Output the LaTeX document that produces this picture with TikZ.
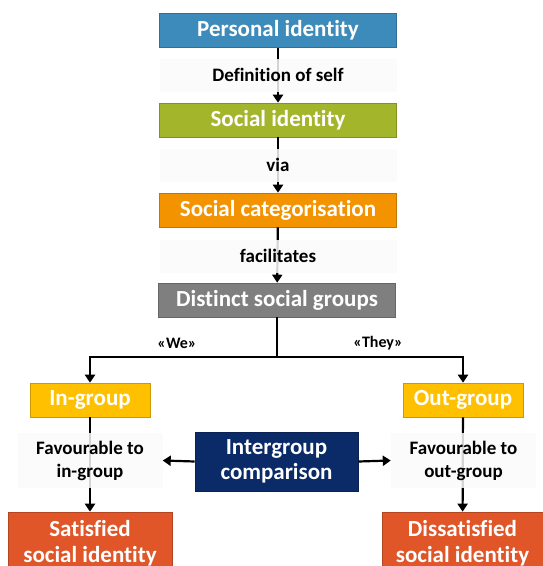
\documentclass[tikz,border=0pt]{standalone}
\usepackage{fontspec}
\setmainfont{Carlito}[Ligatures=CommonOff]
\usetikzlibrary{arrows.meta}
\definecolor{cblue}{HTML}{3D8BBA}
\definecolor{cgreen}{HTML}{A3B62B}
\definecolor{corange}{HTML}{F39300}
\definecolor{cgray}{HTML}{7F7F7F}
\definecolor{cyellow}{HTML}{FFC000}
\definecolor{cred}{HTML}{E05628}
\definecolor{cnavy}{HTML}{0B2A68}
\tikzset{
  box/.style={draw=#1!80!black, line width=0.6pt, fill=#1, text=white,
    font=\bfseries\fontsize{23}{26}\selectfont, inner sep=0pt,
    align=center, minimum width=237pt, minimum height=34pt},
  small/.style={minimum width=120pt},
  lbl/.style={fill=gray!4, fill opacity=0.85, text opacity=1, draw=none,
    font=\bfseries\fontsize{19}{23}\selectfont, inner sep=0pt,
    align=center, minimum width=237pt, minimum height=33pt},
  conn/.style={line width=2.2pt, -{Triangle[width=10pt,length=8pt]}},
  tag/.style={font=\bfseries\fontsize{16}{18}\selectfont, inner sep=1pt}
}
\begin{document}
\begin{tikzpicture}[x=1pt,y=-1pt]
\useasboundingbox (0,0) rectangle (543,566);
% main chain
\node[box=cblue]   (pi)  at (278,30.5) {Personal identity};
\node[box=cgreen]  (si)  at (278,120)  {Social identity};
\node[box=corange] (sc)  at (278,210)  {Social categorisation};
\node[box=cgray]   (dsg) at (277,300)  {Distinct social groups};
% groups
\node[box=cyellow, small] (ing) at (90,400)  {In-group};
\node[box=cyellow, small] (outg) at (463,400) {Out-group};
\node[box=cnavy, minimum width=163pt, minimum height=59pt, font=\bfseries\fontsize{23}{25}\selectfont] (ic) at (276.5,461.5)
  {Intergroup\\comparison};
\node[box=cred, minimum width=164pt, minimum height=62pt] (sat) at (90,543)
  {Satisfied\\social identity};
\node[box=cred, minimum width=161pt, minimum height=62pt] (dis) at (462.5,543)
  {Dissatisfied\\social identity};
% connectors
\coordinate (split) at (277,357);
\draw[conn] (pi) -- (si);
\draw[conn] (si) -- (sc);
\draw[conn] (sc) -- (dsg);
\draw[line width=2.2pt] (dsg.south) -- (split);
\draw[conn] (split) -| (ing.north);
\draw[conn] (split) -| (outg.north);
\draw[conn] (ing) -- (sat);
\draw[conn] (outg) -- (dis);
% edge labels
\node[lbl] (l1) at (278,75)  {Definition of self};
\node[lbl] (l2) at (278,165) {via};
\node[lbl] (l3) at (278,256) {facilitates};
\node[lbl, minimum width=145pt, minimum height=55pt] (f1) at (90,460.5)
  {Favourable to\\in-group};
\node[lbl, minimum width=145pt, minimum height=55pt] (f2) at (463.5,460.5)
  {Favourable to\\out-group};
\draw[conn] (ic.west) -- (f1.east);
\draw[conn] (ic.east) -- (f2.west);
\node[tag] (we) at (177,343) {«We»};
\node[tag] (they) at (378,343) {«They»};
\end{tikzpicture}
\end{document}
